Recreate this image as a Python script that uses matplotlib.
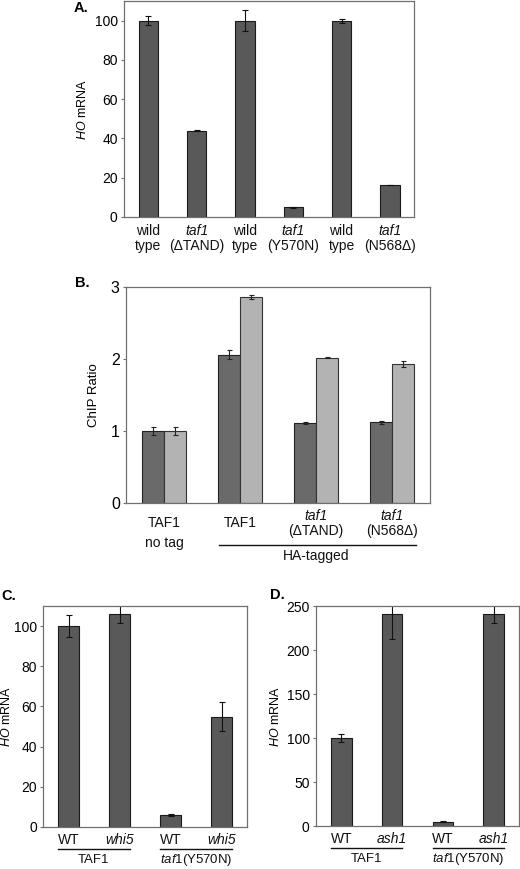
import numpy as np
import matplotlib
matplotlib.use("Agg")
import matplotlib.pyplot as plt

plt.rcParams['font.family'] = ['Liberation Sans', 'DejaVu Sans']
plt.rcParams['mathtext.fontset'] = 'custom'
plt.rcParams['mathtext.rm'] = 'Liberation Sans'
plt.rcParams['mathtext.it'] = 'Liberation Sans:italic'

# panel A
a_top = ["wild", "taf1", "wild", "taf1", "wild", "taf1"]
a_bot = ["type", "(\u0394TAND)", "type", "(Y570N)", "type", "(N568\u0394)"]
a_vals = [100, 44, 100, 5, 100, 16.5]
a_err = [2.2, 0.3, 5.5, 0.3, 1.0, 0.0]

# panel B
b_groups = ["TAF1", "TAF1", "taf1", "taf1"]
b_sub = ["no tag", "", "(\u0394TAND)", "(N568\u0394)"]
b_dark = [1.0, 2.06, 1.11, 1.12]
b_dark_err = [0.05, 0.06, 0.01, 0.02]
b_light = [1.0, 2.86, 2.02, 1.93]
b_light_err = [0.05, 0.03, 0.01, 0.04]

# panel C
c_labels = ["WT", "whi5", "WT", "whi5"]
c_vals = [100, 106, 6, 55]
c_err = [5.5, 4.5, 0.3, 7.0]

# panel D
d_labels = ["WT", "ash1", "WT", "ash1"]
d_vals = [100, 241, 5, 241]
d_err = [5.0, 28.0, 0.3, 10.0]

W, H = 520, 869
fig = plt.figure(figsize=(W / 100, H / 100), dpi=100)


def axes_px(l, r, t, b):
    return fig.add_axes([l / W, 1 - b / H, (r - l) / W, (b - t) / H])


def style(ax):
    for s in ax.spines.values():
        s.set_color('#707070')
        s.set_linewidth(0.9)
    ax.tick_params(axis='x', length=0)
    ax.tick_params(axis='y', length=2.5, width=0.8, color='#707070', pad=2)
    ax.set_xticks([])


def below(ax, x, px, s, size=10, style='normal', **kw):
    ax.annotate(s, xy=(x, 0), xycoords=('data', 'axes fraction'),
                xytext=(0, -px * 0.72), textcoords='offset points',
                ha='center', va='center', fontsize=size, fontstyle=style,
                color='#111111', **kw)


def hline(ax, lo, hi, px, h):
    ax.plot([lo, hi], [-px / h, -px / h], color='#111111', lw=1.0,
            transform=ax.get_xaxis_transform(), clip_on=False)


dark = '#595959'
ek = dict(ecolor='#111111', elinewidth=0.8, capsize=2, capthick=0.8)

# ---- A
ax = axes_px(124, 414, 1, 217)
x = np.arange(len(a_vals))
ax.bar(x, a_vals, 0.4, color=dark, edgecolor='#1a1a1a', linewidth=0.8,
       yerr=a_err, error_kw=ek)
ax.set_xlim(-0.5, 5.5)
ax.set_ylim(0, 110)
ax.set_yticks([0, 20, 40, 60, 80, 100])
style(ax)
ax.tick_params(axis='y', labelsize=10)
ax.set_ylabel(r'$\it{HO}$ mRNA', fontsize=9, labelpad=4)
for i in x:
    below(ax, i, 14, a_top[i], style='italic' if a_top[i] == 'taf1' else 'normal')
    below(ax, i, 29, a_bot[i])
fig.text(74 / W, 1 - 8 / H, 'A.', fontsize=10.5, fontweight='bold', va='center')

# ---- B
ax = axes_px(126, 430, 287, 503)
x = np.arange(len(b_dark))
bw = 0.285
ekb = dict(ecolor='#222222', elinewidth=0.8, capsize=1.8, capthick=0.8)
ax.bar(x - bw / 2, b_dark, bw, color='#6a6a6a', edgecolor='#222222',
       linewidth=0.8, yerr=b_dark_err, error_kw=ekb)
ax.bar(x + bw / 2, b_light, bw, color='#b3b3b3', edgecolor='#333333',
       linewidth=0.8, yerr=b_light_err, error_kw=ekb)
ax.set_xlim(-0.5, 3.5)
ax.set_ylim(0, 3)
ax.set_yticks([0, 1, 2, 3])
style(ax)
ax.tick_params(axis='y', labelsize=11.5)
ax.set_ylabel('ChIP Ratio', fontsize=9.5, labelpad=8)
for i in x:
    if b_groups[i] == 'taf1':
        below(ax, i, 13, b_groups[i], style='italic')
        below(ax, i, 28, b_sub[i])
    else:
        below(ax, i, 20, b_groups[i])
below(ax, 0, 40, b_sub[0])
hline(ax, 0.72, 3.32, 42, 216)
below(ax, 2.0, 53, 'HA-tagged')
fig.text(75 / W, 1 - 283 / H, 'B.', fontsize=10.5, fontweight='bold', va='center')


def cd_panel(ax, vals, err, labels, ylim, yticks, pad):
    x = np.arange(len(vals))
    ax.bar(x, vals, 0.4, color=dark, edgecolor='#1a1a1a', linewidth=0.8,
           yerr=err, error_kw=dict(ek, capsize=2.2))
    ax.set_xlim(-0.5, 3.5)
    ax.set_ylim(0, ylim)
    ax.set_yticks(yticks)
    style(ax)
    ax.tick_params(axis='y', labelsize=10)
    ax.set_ylabel(r'$\it{HO}$ mRNA', fontsize=9, labelpad=pad)
    for i in x:
        below(ax, i, 13, labels[i],
              style='normal' if labels[i] == 'WT' else 'italic')
    for lo, hi, name in [(-0.2, 1.2, 'TAF1'), (1.8, 3.2, r'$\it{taf1}$(Y570N)')]:
        hline(ax, lo, hi, 22, 220)
        below(ax, (lo + hi) / 2, 33, name, size=9.5)


ax = axes_px(43, 247, 606, 827)
cd_panel(ax, c_vals, c_err, c_labels, 110, [0, 20, 40, 60, 80, 100], 0.5)
fig.text(1 / W, 1 - 596 / H, 'C.', fontsize=10.5, fontweight='bold', va='center')

ax = axes_px(316, 519, 606, 826)
cd_panel(ax, d_vals, d_err, d_labels, 250, [0, 50, 100, 150, 200, 250], 3)
fig.text(270 / W, 1 - 595 / H, 'D.', fontsize=10.5, fontweight='bold', va='center')

fig.savefig('out.png', dpi=100)
